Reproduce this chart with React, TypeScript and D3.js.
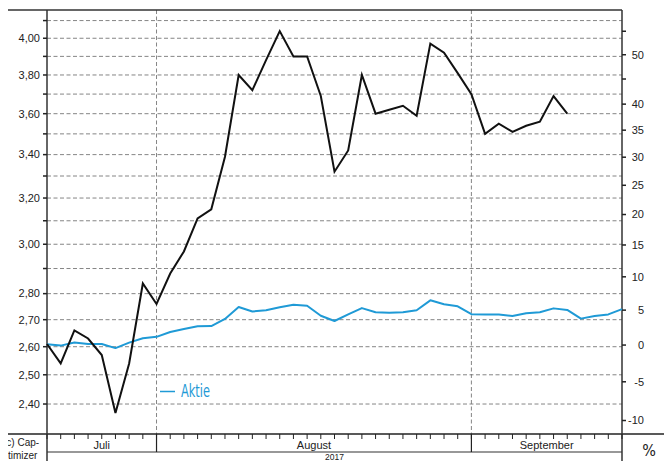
import * as d3 from "d3";
import React from "react";

// trading days, 20 Jul - 18 Sep 2017
const days = [
  "2017-07-20", "2017-07-21", "2017-07-24", "2017-07-25", "2017-07-26", "2017-07-27", "2017-07-28", "2017-07-31",
  "2017-08-01", "2017-08-02", "2017-08-03", "2017-08-04", "2017-08-07", "2017-08-08", "2017-08-09", "2017-08-10",
  "2017-08-11", "2017-08-14", "2017-08-15", "2017-08-16", "2017-08-17", "2017-08-18", "2017-08-21", "2017-08-22",
  "2017-08-23", "2017-08-24", "2017-08-25", "2017-08-28", "2017-08-29", "2017-08-30", "2017-08-31",
  "2017-09-01", "2017-09-04", "2017-09-05", "2017-09-06", "2017-09-07", "2017-09-08", "2017-09-11", "2017-09-12",
  "2017-09-13", "2017-09-14", "2017-09-15", "2017-09-18",
];

const blackSeries = [
  2.61, 2.54, 2.66, 2.63, 2.57, 2.37, 2.54, 2.84, 2.76, 2.88, 2.97, 3.11, 3.15, 3.39, 3.80, 3.72,
  3.88, 4.04, 3.90, 3.90, 3.69, 3.32, 3.42, 3.80, 3.60, 3.62, 3.64, 3.59, 3.97, 3.92, 3.81, 3.70,
  3.50, 3.55, 3.51, 3.54, 3.56, 3.69, 3.60,
];

const aktie = [
  2.609, 2.604, 2.615, 2.61, 2.61, 2.595, 2.615, 2.631, 2.636, 2.654, 2.665, 2.675, 2.676, 2.703,
  2.748, 2.731, 2.736, 2.747, 2.757, 2.753, 2.715, 2.695, 2.72, 2.744, 2.728, 2.726, 2.728, 2.736,
  2.774, 2.759, 2.751, 2.721, 2.72, 2.72, 2.714, 2.724, 2.728, 2.743, 2.737, 2.704, 2.714, 2.72, 2.74,
];

const months = [
  { label: "Juli", from: "2017-07-20", to: "2017-08-01" },
  { label: "August", from: "2017-08-01", to: "2017-09-01" },
  { label: "September", from: "2017-09-01", to: "2017-09-18" },
];

const leftLabels = [2.4, 2.5, 2.6, 2.7, 2.8, 3.0, 3.2, 3.4, 3.6, 3.8, 4.0];
const gridValues = [2.4, 2.5, 2.6, 2.7, 2.8, 2.9, 3.0, 3.1, 3.2, 3.3, 3.4, 3.5, 3.6, 3.7, 3.8, 3.9, 4.0, 4.1];
const pctLabels = [-10, -5, 0, 5, 10, 15, 20, 25, 30, 35, 40, 50];
const pctMinor = [45, 55];
const basePrice = 2.606;

const W = 664;
const H = 461;
const left = 47;
const right = 622;
const top = 10;
const bottom = 434;
const blue = "#1f9ad6";
const axisFont = "'Liberation Sans', Arial, sans-serif";
const narrowFont = "'Liberation Sans Narrow', 'DejaVu Sans Condensed', sans-serif";

export default function App() {
  const x = d3.scalePoint<string>().domain(days).range([left, right]);
  const y = d3.scaleLog().domain([2.3016, 4.161]).range([bottom, top]);
  const yPct = (p: number) => y(basePrice * (1 + p / 100));

  const line = d3
    .line<number>()
    .x((d, i) => x(days[i]) as number)
    .y((d) => y(d));

  const fmt = (v: number) => d3.format(".2f")(v).replace(".", ",");

  return (
    <svg width={W} height={H} style={{ position: "absolute", left: 0, top: 0, background: "#fff" }}>
      <defs>
        <clipPath id="leftclip">
          <rect x={8} y={0} width={40} height={H} />
        </clipPath>
      </defs>

      {/* grid */}
      {gridValues.map((v) => (
        <line key={"g" + v} x1={left} x2={right} y1={y(v)} y2={y(v)}
          stroke="#777" strokeDasharray="4,2.5" strokeWidth={0.9} />
      ))}
      {months.slice(1).map((m) => (
        <line key={"mv" + m.label} x1={x(m.from)} x2={x(m.from)} y1={top} y2={bottom}
          stroke="#777" strokeDasharray="4,2.5" strokeWidth={0.9} />
      ))}

      {/* frame */}
      <line x1={8} x2={right} y1={top} y2={top} stroke="#333" strokeWidth={1.5} />
      <line x1={8} x2={W} y1={bottom} y2={bottom} stroke="#222" strokeWidth={1.5} />
      <line x1={left} x2={left} y1={top} y2={H} stroke="#333" strokeWidth={1.5} />
      <line x1={right} x2={right} y1={top} y2={H} stroke="#333" strokeWidth={1.5} />
      <line x1={left} x2={right} y1={452} y2={452} stroke="#333" strokeWidth={1.2} />

      {/* left axis */}
      {gridValues.map((v) => (
        <line key={"lt" + v} x1={left - 4} x2={left} y1={y(v)} y2={y(v)} stroke="#222" strokeWidth={1.5} />
      ))}
      {leftLabels.map((v) => (
        <text key={"ll" + v} x={40} y={y(v)} dy="0.35em" textAnchor="end"
          fontFamily={axisFont} fontSize={11} fill="#222">{fmt(v)}</text>
      ))}

      {/* right axis */}
      {pctLabels.concat(pctMinor).map((p) => (
        <line key={"rt" + p} x1={right} x2={right + 4} y1={yPct(p)} y2={yPct(p)} stroke="#222" strokeWidth={1.5} />
      ))}
      {pctLabels.map((p) => (
        <text key={"rl" + p} x={644} y={yPct(p)} dy="0.35em" textAnchor="end"
          fontFamily={axisFont} fontSize={11} fill="#222">{p}</text>
      ))}
      <text x={649} y={456} textAnchor="middle" fontFamily={narrowFont} fontSize={16} fill="#222">%</text>

      {/* x axis */}
      {days.map((d) => (
        <line key={"xt" + d} x1={x(d)} x2={x(d)} y1={bottom} y2={bottom + 5} stroke="#222" strokeWidth={1} />
      ))}
      {months.slice(1).map((m) => (
        <line key={"ms" + m.label} x1={x(m.from)} x2={x(m.from)} y1={bottom} y2={452} stroke="#222" strokeWidth={1.2} />
      ))}
      {months.map((m) => (
        <text key={"ml" + m.label} x={((x(m.from) as number) + (x(m.to) as number)) / 2} y={449}
          textAnchor="middle" fontFamily={axisFont} fontSize={11} fill="#222">{m.label}</text>
      ))}
      <text x={(left + right) / 2} y={459.5} textAnchor="middle" fontFamily={axisFont} fontSize={8.5} fill="#222">2017</text>

      <g clipPath="url(#leftclip)" fontFamily={axisFont} fontSize={10} fill="#222">
        <text x={3} y={446}>(c) Cap-</text>
        <text x={8} y={459}>timizer</text>
      </g>

      {/* series */}
      <path d={line(aktie) ?? ""} fill="none" stroke={blue} strokeWidth={2} strokeLinejoin="round" />
      <path d={line(blackSeries) ?? ""} fill="none" stroke="#111" strokeWidth={2} strokeLinejoin="miter" />

      {/* legend */}
      <line x1={160} x2={175} y1={391.5} y2={391.5} stroke={blue} strokeWidth={1.5} />
      <text x={181} y={397} fontFamily={narrowFont} fontSize={17} fill={blue}
        textLength={29} lengthAdjust="spacingAndGlyphs">Aktie</text>
    </svg>
  );
}
